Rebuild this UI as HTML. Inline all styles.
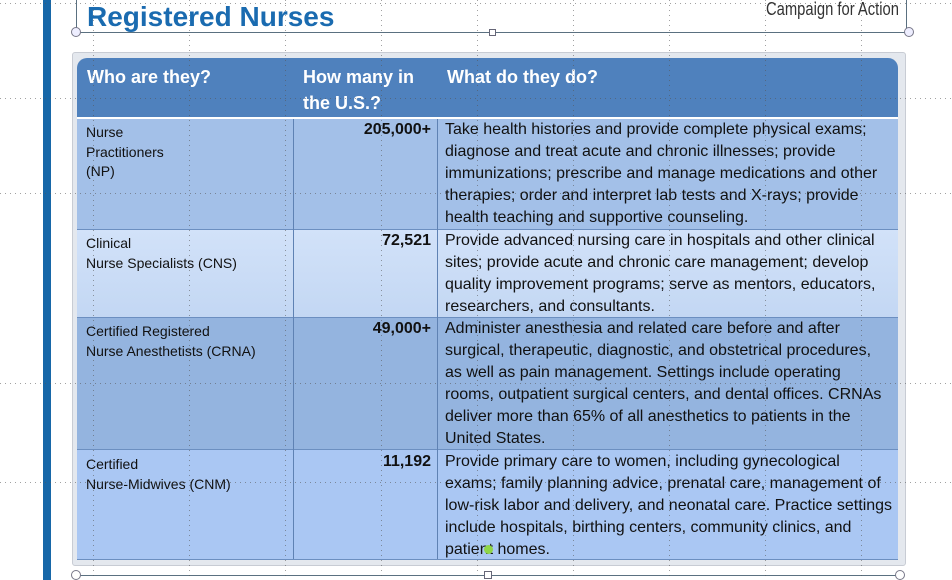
<!DOCTYPE html>
<html><head><meta charset="utf-8"><style>
*{margin:0;padding:0;box-sizing:border-box}
body{width:952px;height:580px;background:#fff;position:relative;overflow:hidden;font-family:"Liberation Sans",Arial,sans-serif}
.a{position:absolute}
.d{position:absolute;left:445px;font-size:16px;line-height:22px;color:#111;white-space:nowrap}
.n{position:absolute;right:521px;font-size:16px;font-weight:bold;color:#111;line-height:22px}
.l{position:absolute;left:86px;font-size:14px;line-height:19.5px;color:#111;white-space:nowrap}
.h{position:absolute;color:#fff;font-weight:bold;font-size:18px;line-height:26px}
</style></head><body>
<div class="a" style="left:43px;top:0;width:8px;height:580px;background:#1767a8"></div>
<div class="a" style="left:87px;top:-1px;font-size:28px;font-weight:bold;color:#1a6bb0;line-height:36px">Registered Nurses</div>
<div class="a" style="left:766px;top:-2px;font-size:18px;line-height:22px;color:#333;transform:scaleX(0.82);transform-origin:left">Campaign for Action</div>
<div class="a" style="left:76px;top:32px;width:834px;height:1px;background:#5a7080"></div>
<div class="a" style="left:76px;top:0;width:1px;height:32px;background:#5a7080"></div>
<div class="a" style="left:906px;top:0;width:1px;height:32px;background:#5a7080"></div>
<div class="a" style="left:71px;top:27px;width:10px;height:10px;border:1px solid #778;border-radius:50%;background:#eef"></div>
<div class="a" style="left:904px;top:27px;width:10px;height:10px;border:1px solid #778;border-radius:50%;background:#eef"></div>
<div class="a" style="left:489px;top:29px;width:7px;height:7px;border:1px solid #667;background:#fff"></div>
<div class="a" style="left:72px;top:52px;width:834px;height:514px;background:#e4e8ee;border:1px solid #c8ccd4;border-radius:3px"></div>
<div class="a" style="left:77px;top:58px;width:821px;height:59px;background:#4f81bd;border-radius:10px 10px 0 0"></div>
<div class="a" style="left:77px;top:117px;width:821px;height:2px;background:#fff"></div>
<div class="a" style="left:77px;top:119px;width:821px;height:110px;background:#a3c0e8"></div>
<div class="a" style="left:77px;top:229px;width:821px;height:88px;background:linear-gradient(#d2e2f9,#c3d7f3)"></div>
<div class="a" style="left:77px;top:317px;width:821px;height:132px;background:#94b4df"></div>
<div class="a" style="left:77px;top:449px;width:821px;height:110px;background:#aac7f3"></div>
<div class="a" style="left:77px;top:229px;width:821px;height:1px;background:#6c8fc0"></div>
<div class="a" style="left:77px;top:317px;width:821px;height:1px;background:#6c8fc0"></div>
<div class="a" style="left:77px;top:449px;width:821px;height:1px;background:#6c8fc0"></div>
<div class="a" style="left:77px;top:559px;width:821px;height:1px;background:#6c8fc0"></div>
<div class="a" style="left:293px;top:119px;width:1px;height:440px;background:#5f82b3"></div>
<div class="a" style="left:437px;top:119px;width:1px;height:440px;background:#5f82b3"></div>
<div class="h" style="left:87px;top:64px">Who are they?</div>
<div class="h" style="left:303px;top:64px">How many in<br>the U.S.?</div>
<div class="h" style="left:447px;top:64px">What do they do?</div>
<div class="l" style="top:123px">Nurse<br>Practitioners<br>(NP)</div>
<div class="l" style="top:234px">Clinical<br>Nurse Specialists (CNS)</div>
<div class="l" style="top:322px">Certified Registered<br>Nurse Anesthetists (CRNA)</div>
<div class="l" style="top:455px">Certified<br>Nurse-Midwives (CNM)</div>
<div class="n" style="top:119px">205,000+</div>
<div class="n" style="top:230px">72,521</div>
<div class="n" style="top:318px">49,000+</div>
<div class="n" style="top:451px">11,192</div>
<div class="d" style="top:119px">Take health histories and provide complete physical exams;<br>diagnose and treat acute and chronic illnesses; provide<br>immunizations; prescribe and manage medications and other<br>therapies; order and interpret lab tests and X-rays; provide<br>health teaching and supportive counseling.</div>
<div class="d" style="top:230px">Provide advanced nursing care in hospitals and other clinical<br>sites; provide acute and chronic care management; develop<br>quality improvement programs; serve as mentors, educators,<br>researchers, and consultants.</div>
<div class="d" style="top:318px">Administer anesthesia and related care before and after<br>surgical, therapeutic, diagnostic, and obstetrical procedures,<br>as well as pain management. Settings include operating<br>rooms, outpatient surgical centers, and dental offices. CRNAs<br>deliver more than 65% of all anesthetics to patients in the<br>United States.</div>
<div class="d" style="top:451px">Provide primary care to women, including gynecological<br>exams; family planning advice, prenatal care, management of<br>low-risk labor and delivery, and neonatal care. Practice settings<br>include hospitals, birthing centers, community clinics, and<br>patient homes.</div>
<div class="a" style="left:76px;top:575px;width:824px;height:1px;background:#5a7080"></div>
<div class="a" style="left:71px;top:570px;width:10px;height:10px;border:1px solid #778;border-radius:50%;background:#fff"></div>
<div class="a" style="left:895px;top:570px;width:10px;height:10px;border:1px solid #778;border-radius:50%;background:#fff"></div>
<div class="a" style="left:484px;top:571px;width:8px;height:8px;border:1px solid #667;background:#fff"></div>
<div class="a" style="left:484px;top:545px;width:9px;height:9px;border-radius:50%;background:#8fd648"></div>
<svg class="a" style="left:0;top:0" width="952" height="580">
<g stroke="#555" stroke-width="1" stroke-dasharray="1 4" opacity="0.55">
<line x1="0" y1="98.5" x2="952" y2="98.5"/><line x1="0" y1="193.5" x2="952" y2="193.5"/>
<line x1="0" y1="383.5" x2="952" y2="383.5"/><line x1="0" y1="482.5" x2="952" y2="482.5"/>
<line x1="0" y1="3.5" x2="952" y2="3.5"/>
<line x1="93.5" y1="0" x2="93.5" y2="580"/><line x1="189.5" y1="0" x2="189.5" y2="580"/>
<line x1="285.5" y1="0" x2="285.5" y2="580"/><line x1="381.5" y1="0" x2="381.5" y2="580"/>
<line x1="477.5" y1="0" x2="477.5" y2="580"/><line x1="573.5" y1="0" x2="573.5" y2="580"/>
<line x1="669.5" y1="0" x2="669.5" y2="580"/><line x1="765.5" y1="0" x2="765.5" y2="580"/>
<line x1="861.5" y1="0" x2="861.5" y2="580"/>
</g></svg>
</body></html>
